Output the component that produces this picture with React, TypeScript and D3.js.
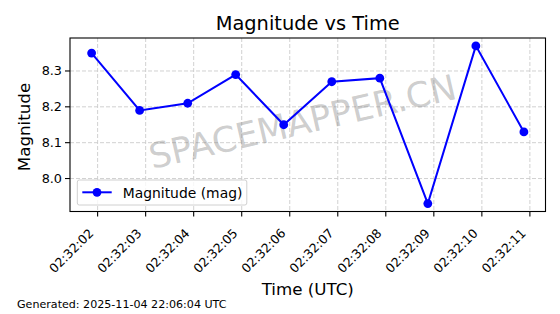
import React from "react";
import * as d3 from "d3";

const times = [
  "02:32:01.875", "02:32:02.875", "02:32:03.875", "02:32:04.875", "02:32:05.875",
  "02:32:06.875", "02:32:07.875", "02:32:08.875", "02:32:09.875", "02:32:10.875",
];
const magnitudes = [8.35, 8.19, 8.21, 8.29, 8.15, 8.27, 8.28, 7.93, 8.37, 8.13];
const xTickLabels = [
  "02:32:02", "02:32:03", "02:32:04", "02:32:05", "02:32:06",
  "02:32:07", "02:32:08", "02:32:09", "02:32:10", "02:32:11",
];
const yTicks = [8.0, 8.1, 8.2, 8.3];

const parse = (s: string) => {
  const [h, m, sec] = s.split(":");
  return +h * 3600 + +m * 60 + +sec;
};

export default function App() {
  const W = 560, H = 314;
  const L = 70, R = 545.5, T = 38, B = 211.5;
  const tx = times.map(parse);
  const xMin = d3.min(tx)!, xMax = d3.max(tx)!;
  const xPad = (xMax - xMin) * 0.05;
  const x = d3.scaleLinear().domain([xMin - xPad, xMax + xPad]).range([L, R]);
  const yMin = d3.min(magnitudes)!, yMax = d3.max(magnitudes)!;
  const yPad = (yMax - yMin) * 0.05;
  const y = d3.scaleLinear().domain([yMin - yPad, yMax + yPad]).range([B, T]);
  const data = tx.map((t, i) => ({ t, v: magnitudes[i] }));
  const line = d3.line<{ t: number; v: number }>().x(d => x(d.t)).y(d => y(d.v));
  const font = "DejaVu Sans, sans-serif";
  const xt = xTickLabels.map(parse);

  return (
    <svg width={W} height={H} style={{ position: "absolute", left: 0, top: 0, background: "#fff" }} fontFamily={font}>
      <rect width={W} height={H} fill="#fff" />
      {/* grid */}
      {xt.map((t, i) => (
        <line key={"gx" + i} x1={x(t)} x2={x(t)} y1={T} y2={B} stroke="#cccccc" strokeWidth={0.9} strokeDasharray="4,2" />
      ))}
      {yTicks.map((v, i) => (
        <line key={"gy" + i} x1={L} x2={R} y1={y(v)} y2={y(v)} stroke="#cccccc" strokeWidth={0.9} strokeDasharray="4,2" />
      ))}
      {/* watermark */}
      <text x={303} y={124} fontSize={35} fill="#808080" fillOpacity={0.4} textAnchor="middle" dominantBaseline="middle"
        transform={`rotate(-13 303 124)`}>SPACEMAPPER.CN</text>
      {/* line */}
      <path d={line(data)!} fill="none" stroke="#0000ff" strokeWidth={2} />
      {data.map((d, i) => (
        <circle key={"p" + i} cx={x(d.t)} cy={y(d.v)} r={4.4} fill="#0000ff" />
      ))}
      {/* spines */}
      <rect x={L} y={T} width={R - L} height={B - T} fill="none" stroke="#000" strokeWidth={1.1} />
      {/* x ticks */}
      {xt.map((t, i) => (
        <g key={"xt" + i}>
          <line x1={x(t)} x2={x(t)} y1={B} y2={B + 5} stroke="#000" strokeWidth={1.1} />
          <text x={x(t) - 3.3} y={B + 22.5} fontSize={12.5} textAnchor="end"
            transform={`rotate(-45 ${x(t) - 3.3} ${B + 22.5})`}>{xTickLabels[i]}</text>
        </g>
      ))}
      {/* y ticks */}
      {yTicks.map((v, i) => (
        <g key={"yt" + i}>
          <line x1={L - 5} x2={L} y1={y(v)} y2={y(v)} stroke="#000" strokeWidth={1.1} />
          <text x={L - 8} y={y(v)} fontSize={12.8} textAnchor="end" dominantBaseline="central">{v.toFixed(1)}</text>
        </g>
      ))}
      {/* legend */}
      <rect x={77.3} y={180} width={169.5} height={25} rx={2} fill="#fff" fillOpacity={0.8} stroke="#d0d0d0" strokeWidth={1} />
      <line x1={82.3} x2={111.7} y1={192.3} y2={192.3} stroke="#0000ff" strokeWidth={2} />
      <circle cx={97} cy={192.3} r={4.4} fill="#0000ff" />
      <text x={122.7} y={192.5} fontSize={13.9} dominantBaseline="central">Magnitude (mag)</text>
      {/* title & labels */}
      <text x={(L + R) / 2} y={29.5} fontSize={19.4} textAnchor="middle">Magnitude vs Time</text>
      <text x={(L + R) / 2} y={295} fontSize={16.7} textAnchor="middle">Time (UTC)</text>
      <text x={0} y={0} fontSize={16.7} textAnchor="middle" transform={`translate(30 127) rotate(-90)`}>Magnitude</text>
      <text x={17} y={307.7} fontSize={11.1}>Generated: 2025-11-04 22:06:04 UTC</text>
    </svg>
  );
}
